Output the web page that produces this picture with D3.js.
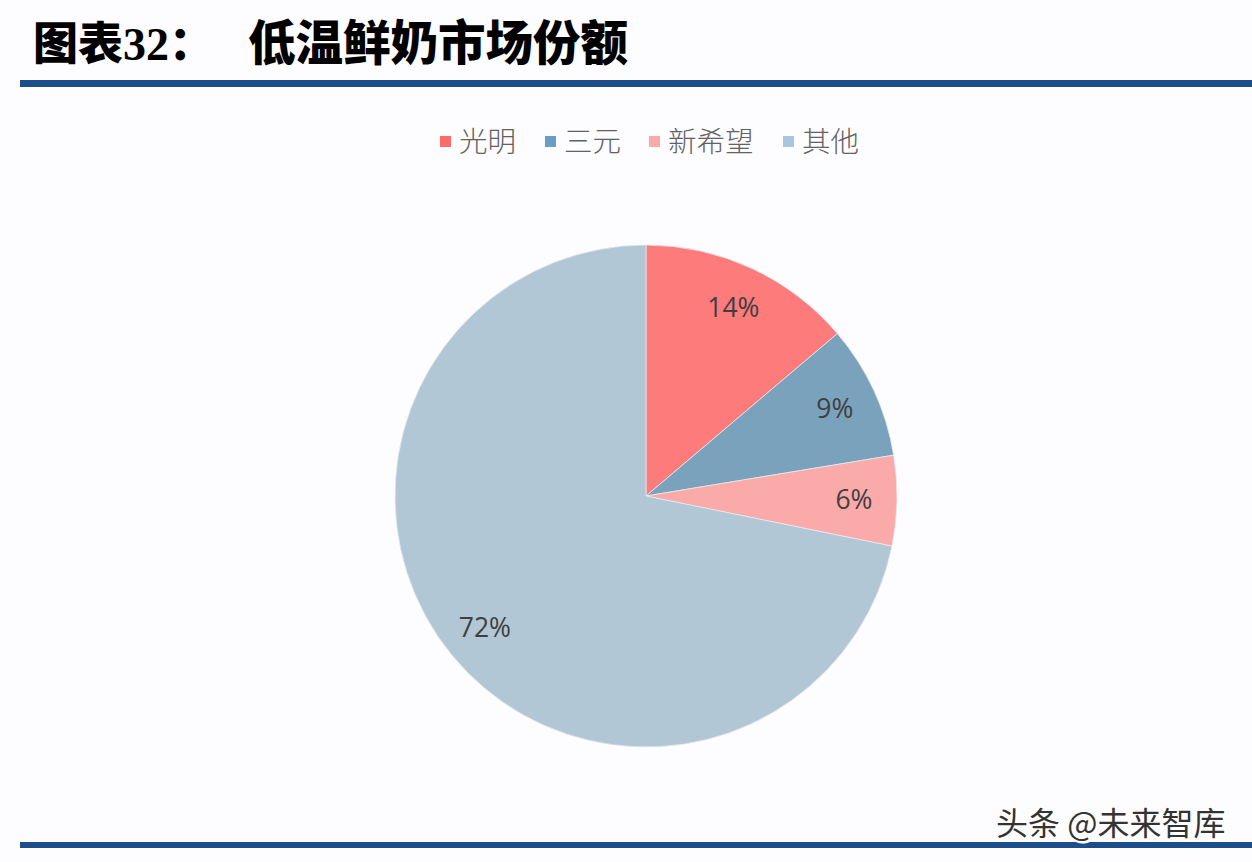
<!DOCTYPE html>
<html><head><meta charset="utf-8">
<script src="https://cdn.jsdelivr.net/npm/d3@7/dist/d3.min.js"></script>
<style>body{margin:0;background:#fdfcfe;}svg{display:block;}</style>
</head><body>
<svg id="c" width="1252" height="862"></svg>
<script>
const categories = ["光明", "三元", "新希望", "其他"];
const values = [13.8, 8.6, 5.8, 71.8];
const labels = ["14%", "9%", "6%", "72%"];
const colors = ["#fe7b7b", "#7aa2bd", "#fbaaaa", "#b2c7d6"];
const legendColors = ["#fe6b6b", "#6a9cc9", "#fbaaaa", "#a8c6e0"];

const svg = d3.select("#c");
svg.append("rect").attr("width",1252).attr("height",862).attr("fill","#fdfcfe");

// title
const t1 = svg.append("text").attr("x",33).attr("y",60)
  .attr("font-family","'Noto Sans CJK SC'").attr("font-weight",900)
  .attr("font-size",45).attr("fill","#000");
t1.append("tspan").text("图表");
t1.append("tspan").attr("font-family","'Liberation Serif'").attr("font-weight",700).attr("font-size",46).text("32");
t1.append("tspan").text("：");
svg.append("text").attr("x",248).attr("y",60)
  .attr("font-family","'Noto Sans CJK SC'").attr("font-weight",900)
  .attr("font-size",47.5).attr("fill","#000")
  .text("低温鲜奶市场份额");

// rules
svg.append("rect").attr("x",20).attr("y",80).attr("width",1232).attr("height",7).attr("fill","#1b4e8a");
svg.append("rect").attr("x",20).attr("y",842).attr("width",1232).attr("height",6).attr("fill","#1b4e8a");

// legend
const legendX = [440, 545, 649, 783];
const lg = svg.append("g");
categories.forEach((c,i)=>{
  lg.append("rect").attr("x",legendX[i]).attr("y",136).attr("width",11).attr("height",11).attr("fill",legendColors[i]);
  lg.append("text").attr("x",legendX[i]+19).attr("y",152)
    .attr("font-family","'Noto Sans CJK SC'").attr("font-weight",300).attr("font-size",28.5).attr("fill","#626262")
    .text(c);
});

// pie
const cx = 646, cy = 496, R = 251;
const pie = d3.pie().sort(null).value(d=>d)(values);
const arc = d3.arc().innerRadius(0).outerRadius(R);
const labelArc = d3.arc().innerRadius(208).outerRadius(208);
const g = svg.append("g").attr("transform",`translate(${cx},${cy})`);
g.selectAll("path").data(pie).join("path")
  .attr("d",arc).attr("fill",(d,i)=>colors[i])
  .attr("stroke","#e8e8ee").attr("stroke-width",0.8);
g.selectAll("text").data(pie).join("text")
  .attr("transform",(d)=>`translate(${labelArc.centroid(d)})`)
  .attr("text-anchor","middle").attr("dy","0.36em")
  .attr("font-family","'Open Sans', 'DejaVu Sans'").attr("font-size",26.5)
  .attr("fill","#404040")
  .text((d,i)=>labels[i]);

// watermark
const wm = svg.append("g");
wm.append("text").attr("x",997).attr("y",836)
  .attr("font-family","'Noto Sans CJK SC'").attr("font-size",32).attr("fill","#fff")
  .attr("stroke","#fff").attr("stroke-width",3)
  .text("头条 @未来智库");
wm.append("text").attr("x",996).attr("y",835)
  .attr("font-family","'Noto Sans CJK SC'").attr("font-size",32).attr("fill","#333")
  .text("头条 @未来智库");
</script>
</body></html>
